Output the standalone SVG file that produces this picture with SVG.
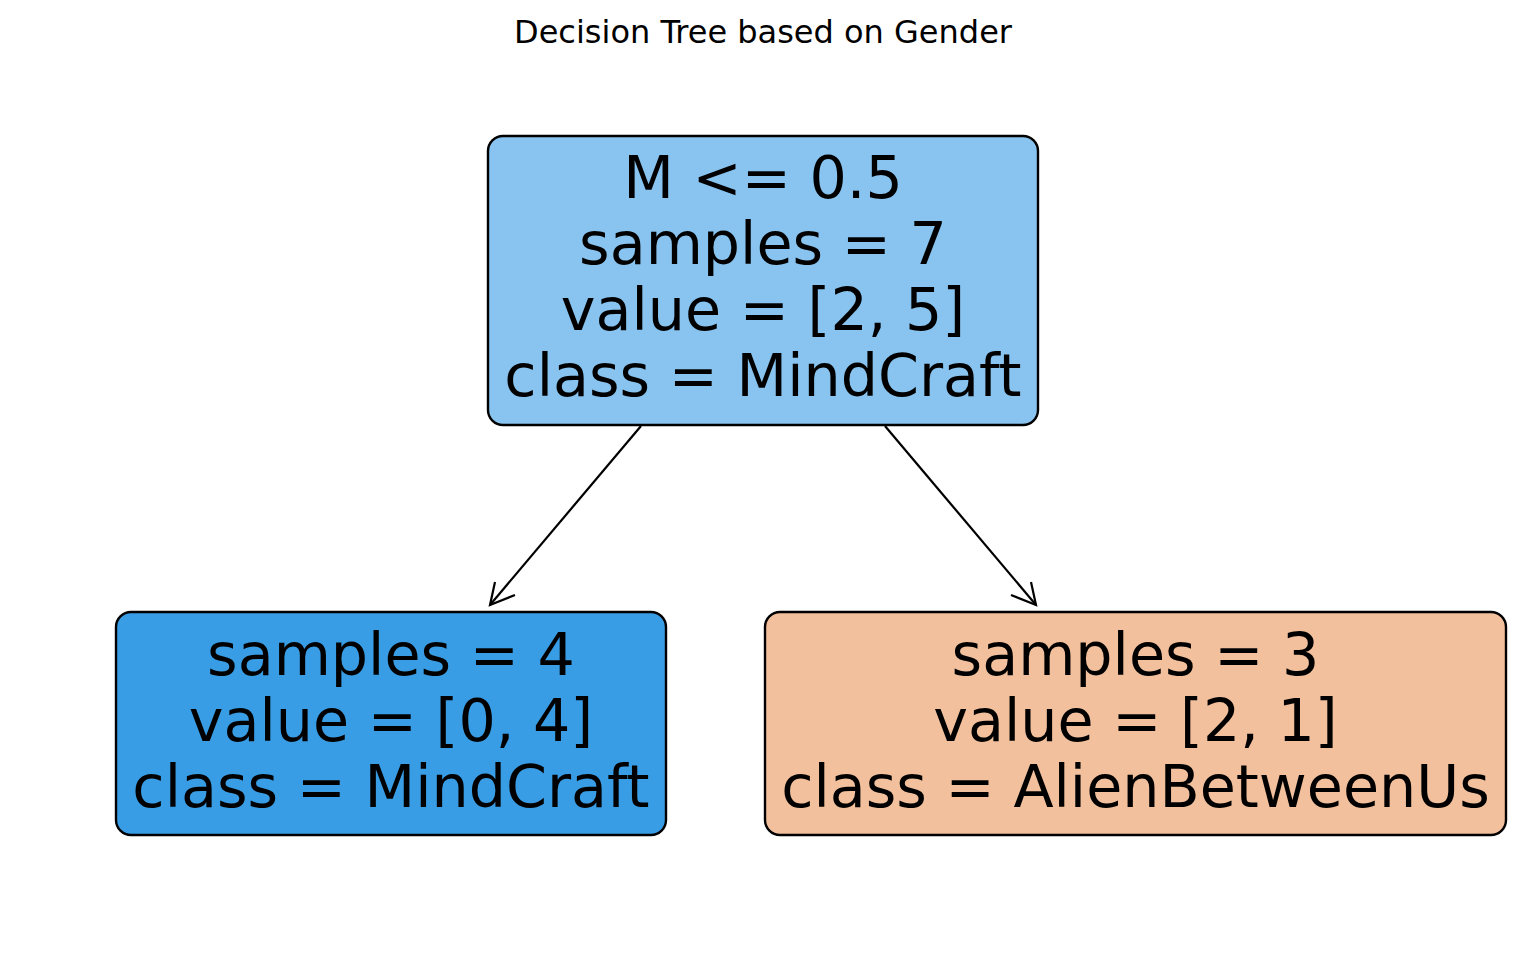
<svg xmlns="http://www.w3.org/2000/svg" width="1526" height="965" viewBox="0 0 1526 965">
<style>
text{font-family:"DejaVu Sans",sans-serif;fill:#000;text-anchor:middle}
.n text{font-size:58.7px}
.box{stroke:#000;stroke-width:2.4}
.edge{stroke:#000;stroke-width:2.2;fill:none}
</style>
<rect width="1526" height="965" fill="#fff"/>
<text x="763" y="43" style="font-size:32px">Decision Tree based on Gender</text>
<g id="connectors">
<line class="edge" x1="641" y1="426" x2="490" y2="605"/>
<polyline class="edge" points="495,582 490,605 515,595"/>
<line class="edge" x1="885" y1="426" x2="1036" y2="605"/>
<polyline class="edge" points="1031,582 1036,605 1011,595"/>
</g>
<g id="root" class="n">
<rect class="box" x="488" y="136" width="550" height="289" rx="15" fill="#88c4ef"/>
<text x="763" y="198">M &lt;= 0.5</text>
<text x="763" y="264">samples = 7</text>
<text x="763" y="330">value = [2, 5]</text>
<text x="763" y="396">class = MindCraft</text>
</g>
<g id="left" class="n">
<rect class="box" x="116" y="612" width="550" height="223" rx="15" fill="#399de5"/>
<text x="391" y="675">samples = 4</text>
<text x="391" y="741">value = [0, 4]</text>
<text x="391" y="807">class = MindCraft</text>
</g>
<g id="right" class="n">
<rect class="box" x="765" y="612" width="741" height="223" rx="15" fill="#f2c09c"/>
<text x="1135.5" y="675">samples = 3</text>
<text x="1135.5" y="741">value = [2, 1]</text>
<text x="1135.5" y="807">class = AlienBetweenUs</text>
</g>
</svg>
